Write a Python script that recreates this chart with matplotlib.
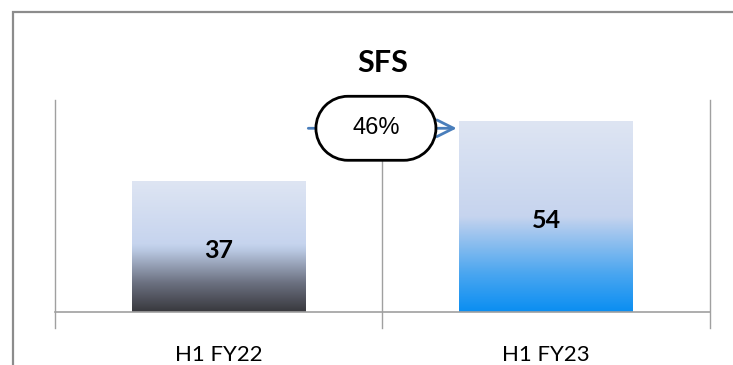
import matplotlib.pyplot as plt
import numpy as np
from matplotlib.colors import LinearSegmentedColormap
from matplotlib.patches import Rectangle, PathPatch
from matplotlib.path import Path
from matplotlib.transforms import IdentityTransform

# data
categories = ['H1 FY22', 'H1 FY23']
values = [37, 54]
growth_label = '46%'
title = 'SFS'

plt.rcParams['font.family'] = ['Lato', 'DejaVu Sans']

fig = plt.figure(figsize=(7.33, 3.65), dpi=100)
ax = fig.add_axes([0.075, 0.145, 0.8936, 0.581])

# outer frame of the chart
fig.patches.append(Rectangle((13 / 733, -0.1), 1.2, 1.1 - 12 / 365 + 0.001,
                             transform=fig.transFigure, fill=False,
                             edgecolor='#8c8c8c', linewidth=1.6))

# gradient colormaps, bottom -> top
cmaps = [
    LinearSegmentedColormap.from_list('g1', [(0, '#38383d'), (0.22, '#6b7080'),
                                             (0.47, '#b9c8e2'), (0.52, '#c6d4ee'),
                                             (1, '#dee5f3')]),
    LinearSegmentedColormap.from_list('g2', [(0, '#0a8ef2'), (0.2, '#4aa6f0'),
                                             (0.43, '#a8c8ee'), (0.5, '#c6d4ee'),
                                             (1, '#dee5f3')]),
]

x = np.arange(len(categories))
width = 0.53
bars = ax.bar(x, values, width=width, color='none', edgecolor='none')
grad = np.linspace(0, 1, 256).reshape(-1, 1)
for bar, cm in zip(bars, cmaps):
    bx, by = bar.get_x(), bar.get_y()
    bw, bh = bar.get_width(), bar.get_height()
    im = ax.imshow(grad, cmap=cm, origin='lower', aspect='auto',
                   extent=[bx, bx + bw, by, by + bh], zorder=2)
    im.set_clip_path(bar)

for xi, v in zip(x, values):
    ax.text(xi, v / 2 - 1, str(v), ha='center', va='center', fontsize=18,
            fontweight='bold', zorder=5)

ax.set_xlim(-0.5, 1.5)
ax.set_ylim(0, 60)

# separators between categories
for sx in [-0.5, 0.5, 1.5]:
    ax.plot([sx, sx], [-4.5, 60], color='#a0a0a0', lw=1, clip_on=False, zorder=1)
ax.axhline(0, color='#a0a0a0', lw=1.2, zorder=3, clip_on=False)

for s in ax.spines.values():
    s.set_visible(False)
ax.set_yticks([])
ax.set_xticks(x)
ax.set_xticklabels(categories, fontsize=16)
ax.tick_params(axis='x', length=0, pad=24)

# growth arrow with label
arrow_y = 52
ax.annotate('', xy=(x[1] - width / 2, arrow_y), xytext=(x[0] + width / 2, arrow_y),
            arrowprops=dict(arrowstyle='->', color='#4a7ebb', lw=2,
                            mutation_scale=30), zorder=3)

# pill shaped label box (in pixels)
cx, cy = ax.transData.transform((0.48, arrow_y))
bw_px, bh_px = 120, 64
r = bh_px / 2
right = Path.arc(-90, 90)
left = Path.arc(90, 270)
rv = right.vertices * r + [cx + bw_px / 2 - r, cy]
lv = left.vertices * r + [cx - bw_px / 2 + r, cy]
lcodes = left.codes.copy()
lcodes[0] = Path.LINETO
verts = np.vstack([rv, lv, rv[:1]])
codes = np.concatenate([right.codes, lcodes, [Path.CLOSEPOLY]])
pill = PathPatch(Path(verts, codes), transform=IdentityTransform(),
                 fc='white', ec='black', lw=2, zorder=5)
fig.patches.append(pill)
fig.text(cx / fig.bbox.width, cy / fig.bbox.height, growth_label,
         ha='center', va='center', fontsize=17, family='Liberation Sans',
         zorder=6)

ax.set_title(title, fontsize=22, fontweight='bold', pad=20)

fig.savefig('out.png', dpi=100)
